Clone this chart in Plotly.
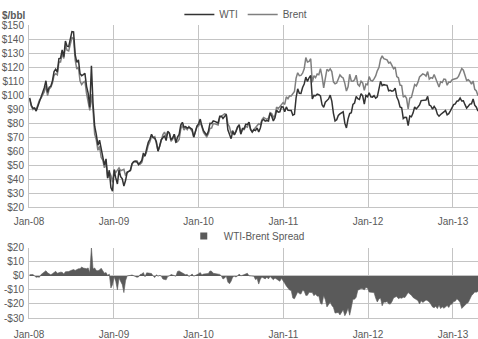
import pandas as pd
import plotly.graph_objects as go

# ---------------- data (weekly, Friday closes, $/bbl) ----------------
first_fridays = ["2008-01-04", "2009-01-02", "2010-01-01", "2011-01-07", "2012-01-06", "2013-01-04"]

wti_2008 = [97.9, 92.7, 90.6, 90.7, 88.5, 91.8, 95.5, 98.8, 101.8, 105.2,
            110.2, 101.8, 105.6, 106.2, 110.1, 116.7, 118.5, 116.3, 126.0, 126.3,
            132.2, 127.4, 138.5, 134.9, 134.6, 140.2, 145.3, 145.1, 128.9, 123.3,
            125.1, 115.2, 113.8, 114.6, 115.5, 106.2, 101.2, 91.2, 120.9, 93.9,
            77.7, 71.9, 64.2, 67.8, 61.0, 57.0, 49.9, 54.4, 40.8, 46.3,
            33.9, 31.4]
brent_2008 = [97.0, 92.0, 89.6, 90.7, 89.5, 92.5, 96.4, 97.8, 99.9, 102.4,
              106.5, 99.6, 104.3, 105.4, 108.5, 114.0, 115.2, 114.4, 123.6, 123.6,
              129.6, 126.1, 135.5, 132.0, 131.5, 136.5, 141.0, 140.5, 125.0, 118.5,
              120.0, 110.0, 107.5, 109.0, 110.0, 101.0, 95.5, 89.0, 100.5, 89.0,
              72.0, 68.0, 60.5, 63.5, 55.5, 53.5, 48.0, 52.0, 40.5, 45.0,
              42.5, 37.6]

wti_2009 = [46.3, 40.8, 36.5, 46.5, 41.7, 40.2, 35.0, 38.9, 44.8, 45.5,
            46.3, 51.1, 52.4, 52.5, 52.2, 50.3, 51.6, 53.2, 58.6, 56.3,
            61.7, 66.3, 68.4, 72.0, 69.6, 69.2, 66.7, 59.9, 63.6, 68.1,
            69.5, 70.9, 67.5, 73.9, 72.7, 68.0, 69.3, 72.0, 66.0, 69.9,
            71.8, 78.5, 80.5, 77.0, 77.4, 76.4, 77.0, 76.1, 75.5, 69.9,
            73.4, 78.0]
brent_2009 = [46.9, 44.7, 46.4, 48.0, 45.9, 46.4, 46.9, 42.4, 44.8, 45.5,
              45.9, 50.4, 52.4, 53.0, 53.1, 51.0, 50.6, 51.8, 56.2, 56.9,
              59.5, 64.2, 66.6, 70.3, 69.6, 70.3, 65.9, 60.1, 63.3, 68.2,
              71.7, 73.5, 70.3, 74.2, 72.8, 66.9, 68.5, 72.0, 66.2, 66.7,
              68.2, 75.7, 78.3, 75.0, 76.6, 75.3, 77.4, 75.7, 74.1, 70.1,
              73.2, 77.3]

wti_2010 = [79.4, 82.8, 78.0, 74.5, 72.9, 71.2, 74.1, 79.8, 79.7, 81.5,
            81.2, 80.7, 80.0, 84.9, 84.9, 83.2, 85.1, 86.2, 75.1, 71.6,
            68.8, 74.0, 71.5, 73.8, 77.2, 78.9, 72.1, 76.1, 76.0, 79.0,
            78.9, 80.7, 75.4, 73.5, 75.2, 74.6, 76.5, 73.7, 76.5, 81.6,
            82.7, 81.3, 81.7, 81.4, 87.0, 84.9, 81.5, 83.8, 89.2, 87.8,
            88.0, 91.5, 91.4]
brent_2010 = [77.9, 80.4, 77.3, 73.2, 71.5, 70.1, 72.4, 76.2, 76.4, 79.6,
              79.5, 79.3, 78.6, 83.8, 84.9, 85.4, 86.6, 86.2, 79.5, 77.2,
              72.5, 74.7, 71.8, 74.5, 77.2, 77.5, 72.1, 75.5, 75.2, 77.6,
              77.0, 80.6, 75.4, 73.9, 75.4, 77.2, 78.4, 79.5, 78.8, 82.4,
              84.0, 83.4, 82.6, 83.5, 87.4, 86.8, 84.2, 85.2, 91.4, 90.3,
              91.8, 93.2, 94.6]

wti_2011 = [88.0, 91.5, 89.1, 89.3, 89.0, 85.6, 86.2, 97.9, 104.4, 101.2,
            101.1, 105.4, 107.9, 112.8, 109.7, 112.3, 113.9, 97.2, 99.7, 99.5,
            100.6, 100.2, 99.3, 93.0, 91.2, 94.9, 96.2, 97.2, 99.9, 95.7,
            86.9, 81.5, 82.3, 85.4, 86.5, 87.2, 88.0, 79.9, 76.5, 83.0,
            86.8, 87.4, 93.3, 94.3, 99.0, 97.4, 96.8, 101.0, 99.4, 93.5,
            99.7, 98.8]
brent_2011 = [93.3, 98.7, 97.4, 99.4, 99.3, 101.4, 102.5, 112.1, 115.9, 113.8,
              114.0, 115.6, 118.7, 126.7, 123.5, 124.0, 125.9, 109.1, 113.8, 112.4,
              115.0, 114.5, 118.8, 113.2, 105.1, 111.9, 118.3, 117.2, 118.7, 116.7,
              109.4, 108.0, 108.6, 111.4, 114.3, 113.0, 112.2, 108.3, 102.8, 105.9,
              114.8, 110.0, 109.9, 110.9, 114.2, 107.6, 106.4, 109.9, 108.6, 103.4,
              107.9, 107.4]

wti_2012 = [101.6, 98.7, 98.5, 99.6, 97.8, 98.7, 103.2, 109.8, 106.7, 107.4,
            107.1, 106.9, 103.0, 103.3, 102.8, 103.1, 104.9, 98.5, 96.1, 91.5,
            90.9, 83.2, 84.1, 84.0, 78.2, 85.0, 84.5, 87.1, 91.4, 90.1,
            91.4, 92.9, 96.0, 96.2, 96.5, 96.4, 99.0, 92.9, 92.2, 89.9,
            91.9, 90.1, 86.3, 84.9, 86.1, 86.9, 88.3, 88.9, 85.9, 86.7,
            88.7, 90.8]
brent_2012 = [113.1, 110.4, 110.0, 111.5, 113.6, 117.3, 119.6, 125.5, 128.0, 126.0,
              125.8, 125.1, 122.9, 123.4, 121.2, 118.8, 120.0, 113.2, 112.3, 107.1,
              106.8, 98.4, 99.5, 97.6, 90.1, 97.8, 98.2, 102.4, 107.5, 106.5,
              109.0, 112.9, 113.7, 115.1, 114.6, 113.5, 116.7, 111.4, 112.4, 112.0,
              114.6, 111.7, 109.6, 105.7, 109.4, 108.9, 111.4, 111.2, 107.0, 109.2,
              109.1, 110.8]

wti_2013 = [93.1, 93.6, 95.6, 95.9, 97.8, 95.7, 95.9, 93.1, 90.7, 92.0,
            93.5, 93.7, 97.2, 92.7, 91.3, 88.5]
brent_2013 = [111.3, 111.6, 111.9, 113.3, 116.8, 118.9, 117.7, 114.0, 110.4, 110.9,
              109.8, 107.8, 110.0, 104.1, 102.9, 99.5]

top_ticks = [20, 30, 40, 50, 60, 70, 80, 90, 100, 110, 120, 130, 140, 150]
top_tick_text = ["$" + str(v) for v in top_ticks]
bottom_ticks = [-30, -20, -10, 0, 10, 20]
bottom_tick_text = ["-$30", "-$20", "-$10", "$0", "$10", "$20"]
x_start, x_end = "2008-01-01", "2013-04-19"

# ---------------- assemble ----------------
wti_years = [wti_2008, wti_2009, wti_2010, wti_2011, wti_2012, wti_2013]
brent_years = [brent_2008, brent_2009, brent_2010, brent_2011, brent_2012, brent_2013]

dates, wti, brent = [], [], []
for start, w, b in zip(first_fridays, wti_years, brent_years):
    d = pd.date_range(start, periods=len(w), freq="7D")
    dates.extend(d)
    wti.extend(w)
    brent.extend(b)
spread = [w - b for w, b in zip(wti, brent)]

FONT = "Liberation Sans, Arial, sans-serif"
TXT = "#595959"
GRID = "#c4c4c4"

fig = go.Figure()
fig.add_trace(go.Scatter(x=dates, y=brent, mode="lines", name="Brent",
                         line=dict(color="#7f7f7f", width=1.5), legendrank=2))
fig.add_trace(go.Scatter(x=dates, y=wti, mode="lines", name="WTI",
                         line=dict(color="#333333", width=1.5), legendrank=1))
fig.add_trace(go.Scatter(x=dates, y=spread, mode="lines", fill="tozeroy",
                         fillcolor="#5a5a5a", line=dict(color="#5a5a5a", width=0.6),
                         showlegend=False, xaxis="x2", yaxis="y2"))
fig.add_trace(go.Scatter(x=[None], y=[None], mode="markers", name="WTI-Brent Spread",
                         marker=dict(symbol="square", size=7, color="#5a5a5a"),
                         xaxis="x2", yaxis="y2", legend="legend2"))

axis_common = dict(showgrid=True, gridcolor=GRID, gridwidth=1, showline=True,
                   linecolor=GRID, linewidth=1, zeroline=False,
                   tickfont=dict(family=FONT, size=10, color=TXT))

fig.update_layout(
    width=478, height=339,
    margin=dict(l=29, r=0, t=17, b=21),
    paper_bgcolor="white", plot_bgcolor="white",
    font=dict(family=FONT, size=10, color=TXT),
    xaxis=dict(domain=[0, 1], anchor="y", type="date", range=[x_start, x_end],
               dtick="M12", tick0="2008-01-01", tickformat="%b-%y",
               ticklabelstandoff=5, **axis_common),
    yaxis=dict(domain=[0.3787, 1], anchor="x", range=[20, 150],
               tickvals=top_ticks, ticktext=top_tick_text, ticklabelstandoff=2,
               **axis_common),
    xaxis2=dict(domain=[0, 1], anchor="y2", type="date", range=[x_start, x_end],
                dtick="M12", tick0="2008-01-01", tickformat="%b-%y",
                ticklabelstandoff=7, **axis_common),
    yaxis2=dict(domain=[0, 0.2392], anchor="x2", range=[-30, 20],
                tickvals=bottom_ticks, ticktext=bottom_tick_text, ticklabelstandoff=2,
                **axis_common),
    legend=dict(orientation="h", x=0.483, y=1.037, xanchor="center", yanchor="middle",
                bgcolor="rgba(0,0,0,0)", itemwidth=30, traceorder="normal",
                font=dict(family=FONT, size=10, color=TXT)),
    legend2=dict(orientation="h", x=0.485, y=0.28, xanchor="center", yanchor="middle",
                 bgcolor="rgba(0,0,0,0)", itemwidth=30,
                 font=dict(family=FONT, size=10, color=TXT)),
    annotations=[dict(text="<b>$/bbl</b>", xref="paper", yref="paper",
                      x=-29 / 449, y=1 + 10 / 301, xanchor="left", yanchor="middle",
                      showarrow=False, font=dict(family=FONT, size=10, color=TXT))],
    showlegend=True,
)

fig.write_html("out.html")
